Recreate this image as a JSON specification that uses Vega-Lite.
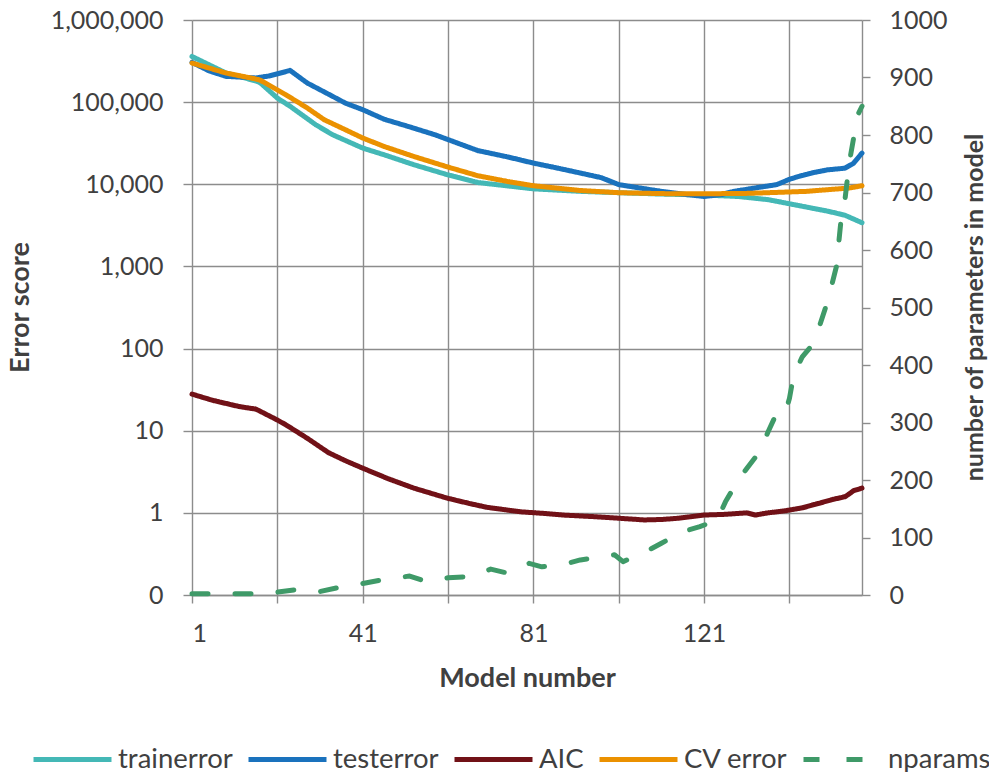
{
  "$schema": "https://vega.github.io/schema/vega-lite/v6.json",
  "width": 670,
  "height": 575,
  "autosize": {"type": "none"},
  "padding": {"left": 192, "top": 20, "right": 127, "bottom": 177},
  "background": "white",
  "config": {
    "font": "Lato",
    "view": {"stroke": null},
    "axis": {
      "labelFont": "Lato", "labelFontSize": 25, "labelColor": "#404040",
      "titleFont": "Lato", "titleFontSize": 27, "titleFontWeight": "bold", "titleColor": "#404040",
      "gridColor": "#8c8c8c", "gridWidth": 1.4, "tickColor": "#8c8c8c", "tickWidth": 1.4,
      "domainColor": "#8c8c8c", "domainWidth": 1.4
    },
    "legend": {"labelFont": "Lato", "labelFontSize": 27.5, "labelColor": "#404040"}
  },
  "data": {"values": [
    {"model": 1, "series": "trainerror", "value": 360000},
    {"model": 9, "series": "trainerror", "value": 226000},
    {"model": 16, "series": "trainerror", "value": 181000},
    {"model": 17, "series": "trainerror", "value": 172000},
    {"model": 21, "series": "trainerror", "value": 112000},
    {"model": 24, "series": "trainerror", "value": 89000},
    {"model": 30, "series": "trainerror", "value": 53000},
    {"model": 34, "series": "trainerror", "value": 40000},
    {"model": 41, "series": "trainerror", "value": 27600},
    {"model": 46, "series": "trainerror", "value": 22900},
    {"model": 53, "series": "trainerror", "value": 17300},
    {"model": 61, "series": "trainerror", "value": 13000},
    {"model": 68, "series": "trainerror", "value": 10500},
    {"model": 81, "series": "trainerror", "value": 8800},
    {"model": 92, "series": "trainerror", "value": 8200},
    {"model": 101, "series": "trainerror", "value": 7900},
    {"model": 111, "series": "trainerror", "value": 7600},
    {"model": 121, "series": "trainerror", "value": 7400},
    {"model": 129, "series": "trainerror", "value": 7100},
    {"model": 136, "series": "trainerror", "value": 6500},
    {"model": 144, "series": "trainerror", "value": 5400},
    {"model": 150, "series": "trainerror", "value": 4700},
    {"model": 154, "series": "trainerror", "value": 4200},
    {"model": 158, "series": "trainerror", "value": 3400},
    {"model": 1, "series": "testerror", "value": 305000},
    {"model": 5, "series": "testerror", "value": 240000},
    {"model": 9, "series": "testerror", "value": 206000},
    {"model": 16, "series": "testerror", "value": 197000},
    {"model": 19, "series": "testerror", "value": 208000},
    {"model": 24, "series": "testerror", "value": 243000},
    {"model": 28, "series": "testerror", "value": 171000},
    {"model": 33, "series": "testerror", "value": 125000},
    {"model": 37, "series": "testerror", "value": 97000},
    {"model": 41, "series": "testerror", "value": 81000},
    {"model": 46, "series": "testerror", "value": 62000},
    {"model": 52, "series": "testerror", "value": 50000},
    {"model": 58, "series": "testerror", "value": 40000},
    {"model": 61, "series": "testerror", "value": 35000},
    {"model": 68, "series": "testerror", "value": 25700},
    {"model": 75, "series": "testerror", "value": 21500},
    {"model": 81, "series": "testerror", "value": 18100},
    {"model": 86, "series": "testerror", "value": 16000},
    {"model": 92, "series": "testerror", "value": 13700},
    {"model": 97, "series": "testerror", "value": 12000},
    {"model": 101, "series": "testerror", "value": 9900},
    {"model": 106, "series": "testerror", "value": 9000},
    {"model": 111, "series": "testerror", "value": 8200},
    {"model": 116, "series": "testerror", "value": 7600},
    {"model": 121, "series": "testerror", "value": 7100},
    {"model": 125, "series": "testerror", "value": 7500},
    {"model": 128, "series": "testerror", "value": 8200},
    {"model": 134, "series": "testerror", "value": 9200},
    {"model": 138, "series": "testerror", "value": 9900},
    {"model": 141, "series": "testerror", "value": 11500},
    {"model": 143, "series": "testerror", "value": 12400},
    {"model": 147, "series": "testerror", "value": 14000},
    {"model": 150, "series": "testerror", "value": 15000},
    {"model": 154, "series": "testerror", "value": 15700},
    {"model": 156, "series": "testerror", "value": 18000},
    {"model": 158, "series": "testerror", "value": 24000},
    {"model": 1, "series": "AIC", "value": 27.9},
    {"model": 6, "series": "AIC", "value": 23.3},
    {"model": 12, "series": "AIC", "value": 19.7},
    {"model": 16, "series": "AIC", "value": 18.3},
    {"model": 21, "series": "AIC", "value": 13.5},
    {"model": 23, "series": "AIC", "value": 11.8},
    {"model": 28, "series": "AIC", "value": 8.1},
    {"model": 33, "series": "AIC", "value": 5.4},
    {"model": 37, "series": "AIC", "value": 4.3},
    {"model": 41, "series": "AIC", "value": 3.5},
    {"model": 47, "series": "AIC", "value": 2.6},
    {"model": 53, "series": "AIC", "value": 2.0},
    {"model": 61, "series": "AIC", "value": 1.5},
    {"model": 66, "series": "AIC", "value": 1.3},
    {"model": 70, "series": "AIC", "value": 1.17},
    {"model": 78, "series": "AIC", "value": 1.03},
    {"model": 84, "series": "AIC", "value": 0.98},
    {"model": 88, "series": "AIC", "value": 0.94},
    {"model": 95, "series": "AIC", "value": 0.9},
    {"model": 101, "series": "AIC", "value": 0.86},
    {"model": 107, "series": "AIC", "value": 0.82},
    {"model": 111, "series": "AIC", "value": 0.83},
    {"model": 115, "series": "AIC", "value": 0.86},
    {"model": 121, "series": "AIC", "value": 0.94},
    {"model": 126, "series": "AIC", "value": 0.96},
    {"model": 131, "series": "AIC", "value": 1.0},
    {"model": 133, "series": "AIC", "value": 0.94},
    {"model": 136, "series": "AIC", "value": 1.0},
    {"model": 140, "series": "AIC", "value": 1.06},
    {"model": 144, "series": "AIC", "value": 1.15},
    {"model": 148, "series": "AIC", "value": 1.31},
    {"model": 151, "series": "AIC", "value": 1.45},
    {"model": 154, "series": "AIC", "value": 1.57},
    {"model": 155, "series": "AIC", "value": 1.7},
    {"model": 156, "series": "AIC", "value": 1.86},
    {"model": 158, "series": "AIC", "value": 2.0},
    {"model": 1, "series": "CV error", "value": 299000},
    {"model": 9, "series": "CV error", "value": 226000},
    {"model": 16, "series": "CV error", "value": 191000},
    {"model": 17, "series": "CV error", "value": 185000},
    {"model": 23, "series": "CV error", "value": 123000},
    {"model": 28, "series": "CV error", "value": 85000},
    {"model": 32, "series": "CV error", "value": 61000},
    {"model": 37, "series": "CV error", "value": 46000},
    {"model": 41, "series": "CV error", "value": 36600},
    {"model": 46, "series": "CV error", "value": 28900},
    {"model": 53, "series": "CV error", "value": 21800},
    {"model": 61, "series": "CV error", "value": 16200},
    {"model": 68, "series": "CV error", "value": 12700},
    {"model": 75, "series": "CV error", "value": 10800},
    {"model": 81, "series": "CV error", "value": 9600},
    {"model": 92, "series": "CV error", "value": 8400},
    {"model": 101, "series": "CV error", "value": 7900},
    {"model": 111, "series": "CV error", "value": 7700},
    {"model": 121, "series": "CV error", "value": 7660},
    {"model": 131, "series": "CV error", "value": 7750},
    {"model": 136, "series": "CV error", "value": 7900},
    {"model": 145, "series": "CV error", "value": 8200},
    {"model": 150, "series": "CV error", "value": 8600},
    {"model": 155, "series": "CV error", "value": 9000},
    {"model": 158, "series": "CV error", "value": 9600},
    {"model": 1, "series": "nparams", "value": 2},
    {"model": 16, "series": "nparams", "value": 2},
    {"model": 21, "series": "nparams", "value": 5},
    {"model": 26, "series": "nparams", "value": 10},
    {"model": 31, "series": "nparams", "value": 6},
    {"model": 36, "series": "nparams", "value": 14},
    {"model": 41, "series": "nparams", "value": 20},
    {"model": 46, "series": "nparams", "value": 27},
    {"model": 52, "series": "nparams", "value": 33},
    {"model": 56, "series": "nparams", "value": 23},
    {"model": 61, "series": "nparams", "value": 30},
    {"model": 66, "series": "nparams", "value": 32},
    {"model": 71, "series": "nparams", "value": 45},
    {"model": 75, "series": "nparams", "value": 38},
    {"model": 80, "series": "nparams", "value": 55},
    {"model": 83, "series": "nparams", "value": 49},
    {"model": 89, "series": "nparams", "value": 55},
    {"model": 92, "series": "nparams", "value": 61},
    {"model": 98, "series": "nparams", "value": 67},
    {"model": 100, "series": "nparams", "value": 70},
    {"model": 102, "series": "nparams", "value": 58},
    {"model": 108, "series": "nparams", "value": 78},
    {"model": 111, "series": "nparams", "value": 90},
    {"model": 116, "series": "nparams", "value": 110},
    {"model": 120, "series": "nparams", "value": 119},
    {"model": 124, "series": "nparams", "value": 130},
    {"model": 126, "series": "nparams", "value": 162},
    {"model": 129, "series": "nparams", "value": 200},
    {"model": 131, "series": "nparams", "value": 220},
    {"model": 134, "series": "nparams", "value": 249},
    {"model": 136, "series": "nparams", "value": 284},
    {"model": 138, "series": "nparams", "value": 316},
    {"model": 140, "series": "nparams", "value": 316},
    {"model": 141, "series": "nparams", "value": 342},
    {"model": 142, "series": "nparams", "value": 383},
    {"model": 144, "series": "nparams", "value": 414},
    {"model": 146, "series": "nparams", "value": 432},
    {"model": 148, "series": "nparams", "value": 467},
    {"model": 150, "series": "nparams", "value": 512},
    {"model": 152, "series": "nparams", "value": 571},
    {"model": 153, "series": "nparams", "value": 646},
    {"model": 154, "series": "nparams", "value": 687},
    {"model": 155, "series": "nparams", "value": 751},
    {"model": 157, "series": "nparams", "value": 835},
    {"model": 158, "series": "nparams", "value": 850}
  ]},
  "layer": [
    {
      "transform": [{"filter": "datum.series !== 'nparams'"}],
      "mark": {"type": "line", "strokeWidth": 5, "strokeCap": "round", "strokeJoin": "round"},
      "encoding": {
        "x": {
          "field": "model", "type": "quantitative",
          "scale": {"domain": [1, 158], "nice": false, "zero": false},
          "axis": {
            "values": [1, 21, 41, 61, 81, 101, 121, 141],
            "labelExpr": "(datum.value - 1) % 40 === 0 ? datum.label : ''",
            "format": "d", "grid": true, "domain": true, "ticks": true, "tickSize": 8,
            "labelPadding": 18, "title": "Model number",
            "titleX": 335, "titleY": 83, "titleBaseline": "middle", "titleAlign": "center"
          }
        },
        "y": {
          "field": "value", "type": "quantitative",
          "scale": {"type": "log", "domain": [0.1, 1000000], "nice": false},
          "axis": {
            "values": [0.1, 1, 10, 100, 1000, 10000, 100000, 1000000],
            "labelExpr": "datum.value < 1 ? '0' : format(datum.value, ',')",
            "grid": true, "domain": false, "ticks": true, "tickSize": 9, "labelPadding": 20,
            "title": "Error score", "titleAngle": -90, "titleX": -172, "titleY": 287,
            "titleBaseline": "middle", "titleAlign": "center"
          }
        },
        "color": {
          "field": "series", "type": "nominal",
          "scale": {"domain": ["trainerror", "testerror", "AIC", "CV error", "nparams"],
                    "range": ["#44b8b6", "#1a72bd", "#711117", "#eb9100", "#3f9a68"]},
          "legend": {
            "title": null, "orient": "none", "direction": "horizontal",
            "legendX": -135, "legendY": 724, "symbolType": "M-3,0L3,0", "symbolSize": 676,
            "symbolStrokeWidth": 5, "labelOffset": 30, "columnPadding": 5
          }
        },
        "strokeDash": {
          "field": "series", "type": "nominal",
          "scale": {"domain": ["trainerror", "testerror", "AIC", "CV error", "nparams"],
                    "range": [[1, 0], [1, 0], [1, 0], [1, 0], [16, 27]]},
          "legend": {
            "title": null, "orient": "none", "direction": "horizontal",
            "legendX": -135, "legendY": 724, "symbolType": "M-3,0L3,0", "symbolSize": 676,
            "symbolStrokeWidth": 5, "labelOffset": 30, "columnPadding": 5
          }
        }
      }
    },
    {
      "transform": [{"filter": "datum.series === 'nparams'"}],
      "mark": {"type": "line", "strokeWidth": 5, "strokeCap": "round", "strokeJoin": "round"},
      "encoding": {
        "x": {"field": "model", "type": "quantitative", "scale": {"domain": [1, 158], "nice": false, "zero": false}},
        "y": {
          "field": "value", "type": "quantitative",
          "scale": {"domain": [0, 1000], "nice": false},
          "axis": {
            "orient": "right", "format": "d",
            "values": [0, 100, 200, 300, 400, 500, 600, 700, 800, 900, 1000],
            "grid": false, "domain": true, "ticks": true, "tickSize": 8, "labelPadding": 19,
            "title": "number of parameters in model", "titleFontSize": 25, "titleAngle": -90, "titleX": 112, "titleY": 287,
            "titleBaseline": "middle", "titleAlign": "center"
          }
        },
        "color": {"field": "series", "type": "nominal"},
        "strokeDash": {"field": "series", "type": "nominal"}
      }
    }
  ],
  "resolve": {"scale": {"y": "independent"}, "axis": {"y": "independent"}}
}
